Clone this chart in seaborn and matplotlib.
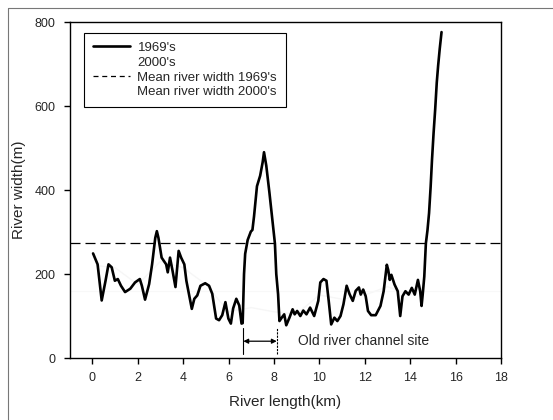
import numpy as np
import pandas as pd
import matplotlib
matplotlib.use("Agg")
import matplotlib.pyplot as plt
import seaborn as sns
from matplotlib.lines import Line2D

# ---- data ----
km_1969 = [0.03, 0.23, 0.41, 0.58, 0.71, 0.85, 0.99, 1.12, 1.26, 1.44, 1.67, 1.88, 2.09, 2.18,
           2.32, 2.5, 2.63, 2.77, 2.84, 2.91, 3.05, 3.25, 3.32, 3.42, 3.53, 3.66, 3.8, 3.91,
           4.05, 4.14, 4.28, 4.38, 4.49, 4.62, 4.76, 4.97, 5.14, 5.28, 5.45, 5.58, 5.72, 5.86,
           5.99, 6.1, 6.2, 6.34, 6.47, 6.57, 6.62, 6.68, 6.73, 6.84, 6.98, 7.05, 7.12, 7.25,
           7.39, 7.5, 7.56, 7.66, 7.8, 7.93, 8.04, 8.1, 8.18, 8.24, 8.34, 8.45, 8.54, 8.68,
           8.82, 8.91, 9.02, 9.16, 9.29, 9.43, 9.59, 9.77, 9.95, 10.04, 10.18, 10.31, 10.41,
           10.52, 10.66, 10.79, 10.93, 11.06, 11.2, 11.33, 11.47, 11.6, 11.74, 11.82, 11.93,
           12.04, 12.14, 12.28, 12.48, 12.69, 12.83, 12.97, 13.03, 13.1, 13.17, 13.31, 13.45,
           13.56, 13.66, 13.79, 13.93, 14.07, 14.2, 14.34, 14.44, 14.5, 14.55, 14.62, 14.69,
           14.76, 14.83, 14.9, 14.96, 15.03, 15.1, 15.17, 15.23, 15.3, 15.38]
width_1969 = [249, 223, 137, 184, 223, 216, 184, 188, 172, 157, 165, 180, 188, 172,
              139, 176, 223, 286, 302, 286, 239, 223, 204, 239, 208, 169, 255, 239,
              223, 184, 145, 117, 141, 149, 172, 178, 172, 153, 94, 90, 102, 133,
              94, 82, 118, 141, 125, 82, 83, 200, 248, 281, 301, 305, 337, 409,
              434, 466, 490, 458, 393, 329, 273, 200, 152, 88, 96, 104, 78, 96,
              116, 104, 112, 100, 113, 104, 120, 100, 136, 180, 188, 184, 136,
              80, 96, 88, 100, 128, 172, 152, 136, 160, 168, 151, 163,
              147, 112, 102, 102, 124, 159, 222, 210, 186, 198, 175, 159,
              100, 147, 159, 151, 167, 151, 186, 159, 124, 151, 194, 273,
              304, 345, 408, 472, 536, 592, 656, 696, 736, 776]
km_2000 = [0.2, 1.0, 2.0, 3.0, 4.0, 5.0, 6.0, 7.0, 8.0, 9.0, 10.0, 11.0, 12.0, 13.0, 14.0, 14.6]
width_2000 = [220, 215, 175, 230, 215, 175, 110, 120, 110, 105, 150, 140, 150, 170, 150, 170]
mean_1969 = 275
mean_2000 = 160
x_ticks = [0, 2, 4, 6, 8, 10, 12, 14, 16, 18]
y_ticks = [0, 200, 400, 600, 800]
site_start, site_end = 6.65, 8.12
site_label = "Old river channel site"

df69 = pd.DataFrame({"km": km_1969, "width": width_1969})
df00 = pd.DataFrame({"km": km_2000, "width": width_2000})

sns.set_theme(style="white")
plt.rcParams['font.family'] = ['Liberation Sans', 'DejaVu Sans']

fig = plt.figure(figsize=(5.53, 4.20), dpi=100)
ax = fig.add_axes([0.1260, 0.1476, 0.7800, 0.8])

sns.lineplot(data=df00, x="km", y="width", ax=ax, color="#f6f6f6", lw=1.0,
             zorder=1, estimator=None, sort=False)
ax.axhline(mean_2000, color="#f8f8f8", lw=0.8, zorder=1)
sns.lineplot(data=df69, x="km", y="width", ax=ax, color="black", lw=1.9,
             zorder=3, estimator=None, sort=False)
ax.axhline(mean_1969, color="black", lw=0.9, dashes=(8, 4), zorder=2)

# old channel annotation
ax.annotate("", xy=(site_start, 40), xytext=(site_end, 40),
            arrowprops=dict(arrowstyle="<|-|>", color="black", lw=0.9,
                            mutation_scale=7, shrinkA=0, shrinkB=0))
ax.plot([site_start, site_start], [10, 72], color="black", lw=0.8)
ax.plot([site_end, site_end], [10, 72], color="black", lw=0.8, ls=(0, (2, 1)))
ax.text(9.05, 40, site_label, fontsize=10, va="center", ha="left")

ax.set_xlim(-1.0, 18)
ax.set_ylim(0, 800)
ax.set_xticks(x_ticks)
ax.set_yticks(y_ticks)
ax.tick_params(axis="both", direction="out", length=4, width=1, color="black",
               labelsize=9, pad=6, bottom=True, left=True)
ax.set_xlabel("River length(km)", fontsize=11, labelpad=8)
ax.set_ylabel("River width(m)", fontsize=11, labelpad=6)
for s in ax.spines.values():
    s.set_color("black")
    s.set_linewidth(1.0)

handles = [Line2D([], [], color="black", lw=1.9),
           Line2D([], [], color="white", lw=1.0),
           Line2D([], [], color="black", lw=0.9, dashes=(4, 3)),
           Line2D([], [], color="white", lw=0.8)]
labels = ["1969's", "2000's", "Mean river width 1969's", "Mean river width 2000's"]
leg = ax.legend(handles, labels, loc="upper left", bbox_to_anchor=(0.018, 0.987),
                fontsize=9.5, frameon=True, fancybox=False, edgecolor="black",
                framealpha=1, handlelength=2.8, labelspacing=0.2, borderpad=0.65,
                handletextpad=0.6)
leg.get_frame().set_linewidth(0.8)

# outer frame of the figure (scanned border)
fig.add_artist(Line2D([8 / 553, 1], [1 - 8 / 420, 1 - 8 / 420], color="#777777", lw=0.8,
                      transform=fig.transFigure))
fig.add_artist(Line2D([8 / 553, 8 / 553], [0, 1 - 8 / 420], color="#777777", lw=0.8,
                      transform=fig.transFigure))

fig.savefig("out.png", dpi=100)
